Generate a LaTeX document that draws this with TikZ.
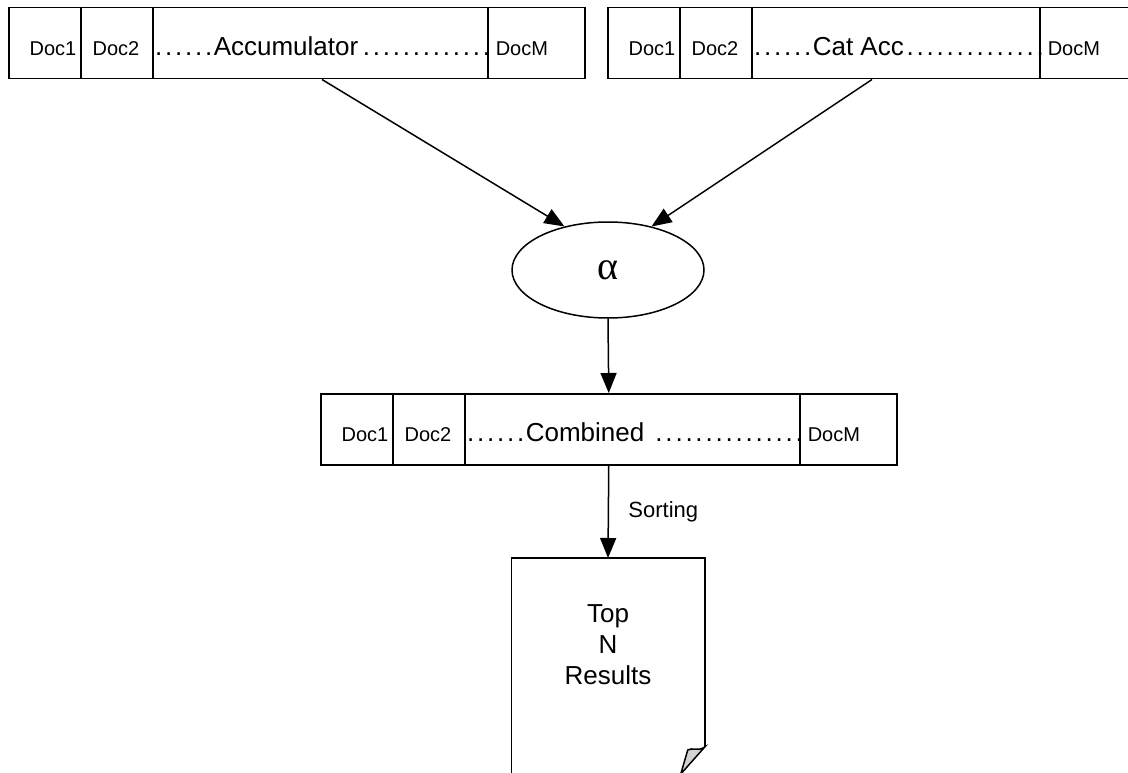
\documentclass[tikz,border=0pt]{standalone}
\usepackage{fontspec}
\setmainfont{Liberation Sans}
\newfontfamily\alphafont{Liberation Serif}
\usetikzlibrary{arrows.meta}
\usetikzlibrary{shapes.geometric}
\usetikzlibrary{positioning}
\usetikzlibrary{calc}
\newcommand\dotrun{\cleaders\hbox to 10pt{\hss.\hss}\hfill}
\tikzset{every picture/.style={line width=1.5pt},
row/.style={draw,rectangle,minimum height=71pt,inner sep=0pt,anchor=north west},
doclbl/.style={font=\fontsize{20}{24}\selectfont,inner sep=0pt},
biglbl/.style={font=\fontsize{26}{31}\selectfont,inner sep=0pt},
arr/.style={-{Triangle[length=20pt,width=16pt]}}}

\begin{document}
\begin{tikzpicture}[x=1pt,y=-1pt]
\clip (0,0) rectangle (1128,773);
\node (acc) [row,minimum width=576pt] at (8,7) {};
\node (cat) [row,minimum width=530pt] at (607,7) {};
\node (comb) [row,minimum width=576pt] at (320,393) {};
\foreach \b/\t/\d in {acc/Accumulator/480, cat/Cat Acc/433, comb/Combined\ /480} {
\foreach \x in {73,145,\d} {
\draw ($(\b.north west)+(\x,0)$) -- ($(\b.south west)+(\x,0)$);
}
\node (\b1) [doclbl,anchor=base] at ($(\b.south west)+(45,-24)$) {Doc1};
\node (\b2) [doclbl,anchor=base] at ($(\b.south west)+(108,-24)$) {Doc2};
\node (\b m) [biglbl,anchor=base west] at ($(\b.south west)+(145,-24)$) {\hbox to \dimexpr\d pt-139pt\relax{\hbox to 60pt{\dotrun}\t\dotrun}};
\node (\b3) [doclbl,anchor=base west] at ($(\b.south west)+(\d+7,-24)$) {DocM};
}
\node (alpha) [ellipse,draw,minimum width=192pt,minimum height=96pt,inner sep=0pt] at (608,270) {\alphafont\fontsize{40}{44}\selectfont α};
\node (page) [minimum width=192pt,minimum height=240pt,inner sep=0pt,anchor=north] at (608,558) {};
\node (topn) [biglbl,align=center] at (608,645) {Top\\N\\Results};
\draw[arr] ($(acc.south west)+(314,0)$) -- (alpha.135);
\draw[arr] ($(cat.south west)+(265,0)$) -- (alpha.45);
\draw[arr] (alpha.south) -- (comb.north);
\draw[arr] (comb.south) -- node [font=\fontsize{22}{26}\selectfont,anchor=west,xshift=16pt] (sort) {Sorting} (page.north);
% page with folded corner
\draw (page.south west) -- (page.north west) -- (page.north east) -- ($(page.north east)+(0,189)$) coordinate (fold);
\draw[fill=gray!35] (fold) .. controls ($(fold)+(-7,5)$) and ($(fold)+(-13,0)$) .. ($(fold)+(-17,3)$) -- ($(fold)+(-24,27)$) -- cycle;
\end{tikzpicture}
\end{document}
